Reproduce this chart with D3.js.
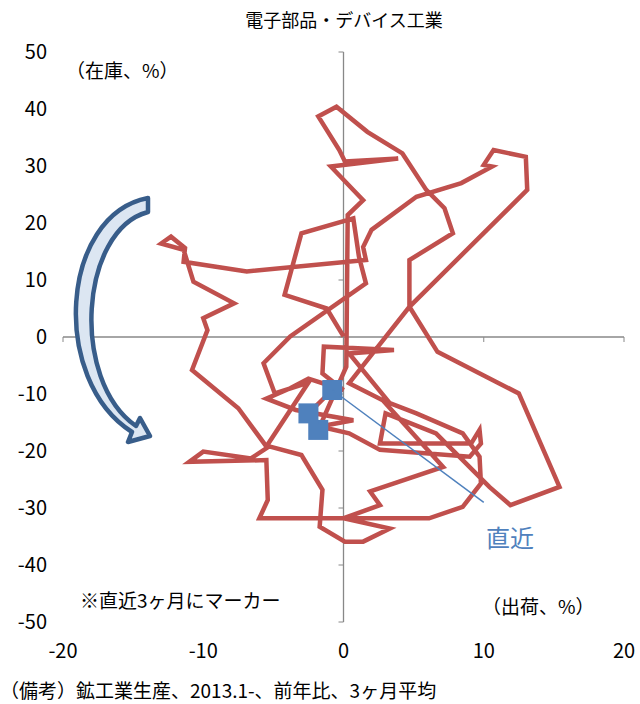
<!DOCTYPE html><html><head><meta charset="utf-8"><script src="https://cdn.jsdelivr.net/npm/d3@7"></script>
<style>body{margin:0;background:#fff}text{font-family:"Noto Sans CJK JP",sans-serif}</style></head><body><svg id="c" width="640" height="704"></svg><script>
const shipX=[0,-1.2,-4.2,-3,0.7,1.1,1.6,-3.8,-5.7,-4.9,-2.5,-5.5,-7.5,-10.8,-9.7,-10,-7.8,-10.7,-11.4,-13,-12.3,-11.3,-11.4,-6.9,1.6,1.4,2,5.2,8.4,10.6,10,10.7,13,13.1,4.7,0.4,2.8,7.1,1.9,2.6,0,3.3,1.4,0.1,-1.7,-1.5,-3,-5.3,-6.6,-10,-11,-5.5,-5.4,-6,6.1,8.5,9.8,9.7,8.5,5.2,3.3,0.4,3.6,-1.4,-1.5,0,-2.5,-3.8,-5.5,-3.4,0.7,-1.7,0.4,2.6,9,9.8,9.7,9.1,4.7,2.6,3,6.6,10.4,11.9,15.4,12.5,6.7,4.7,4.7,7.8,7.2,5.9,4.2,1.7,-0.5,-1.8,-0.3,0.1,3.9,-0.9,0.7,1.4,0.3,0.2,-1.8,-2.5,-0.8];
const invY=[0.1,5,7.4,18.2,20.8,14.1,9.4,0.1,-4.6,-9.9,-8,-19.2,-12.5,-5.8,1.2,3.3,5.9,9.7,15.3,16.4,17.6,15.6,13.2,11.5,13.5,15.8,18.8,24.6,27,29.9,30.2,32.8,31.6,25.8,5.3,-8.1,-11.1,-22.8,-27.1,-29.5,-31.8,-33.6,-35.9,-35.9,-33.3,-26.8,-20.7,-19.2,-21.3,-20.1,-21.9,-21.6,-28.6,-31.8,-31.8,-29.8,-25.7,-21,-16.9,-13.4,-11.6,-2.9,-2.3,-1.7,-6.4,-9.3,-7.3,-9,-10.8,-12.8,-14.6,-15.7,-16.9,-19.8,-21,-18.7,-16.3,-18.7,-18.7,-18.7,-13.4,-16.9,-26.3,-29.5,-26.3,-9.9,-2.6,5.3,13.5,18.2,22.6,25.8,32.2,36,40.4,38.7,32.8,30.8,31.3,29.9,25.8,24,21.4,-5.2,-16.3,-13.4,-9.3];
const xTicks=[-20,-10,0,10,20], yTicks=[50,40,30,20,10,0,-10,-20,-30,-40,-50];
const svg=d3.select("#c");
const x=d3.scaleLinear().domain([-20,20]).range([63,624]);
const y=d3.scaleLinear().domain([-50,50]).range([622,52]);
svg.append("text").attr("x",344).attr("y",27).attr("text-anchor","middle").attr("font-size",18).text("電子部品・デバイス工業");
const g=svg.append("g");
g.append("line").attr("x1",x(-20)).attr("x2",x(20)).attr("y1",y(0)).attr("y2",y(0)).attr("stroke","#888").attr("stroke-width",1.3);
g.append("line").attr("x1",x(0)).attr("x2",x(0)).attr("y1",y(50)).attr("y2",y(-50)).attr("stroke","#888").attr("stroke-width",1.3);
yTicks.forEach(t=>{g.append("line").attr("x1",x(0)-5).attr("x2",x(0)).attr("y1",y(t)).attr("y2",y(t)).attr("stroke","#888");
 svg.append("text").attr("x",47).attr("y",y(t)+7).attr("text-anchor","end").attr("font-size",20).attr("font-family","Liberation Sans Narrow, Liberation Sans").text(t);});
xTicks.forEach(t=>{g.append("line").attr("x1",x(t)).attr("x2",x(t)).attr("y1",y(0)).attr("y2",y(0)+5).attr("stroke","#888");
 svg.append("text").attr("x",x(t)).attr("y",658).attr("text-anchor","middle").attr("font-size",20).attr("font-family","Liberation Sans Narrow, Liberation Sans").text(t);});
const pts=shipX.map((v,i)=>[v,invY[i]]);
svg.append("path").attr("d",d3.line().x(d=>x(d[0])).y(d=>y(d[1]))(pts)).attr("fill","none").attr("stroke","#c0504d").attr("stroke-width",4.5).attr("stroke-linejoin","miter");
svg.selectAll("rect.m").data(pts.slice(-3)).join("rect").attr("x",d=>x(d[0])-10).attr("y",d=>y(d[1])-10).attr("width",20).attr("height",20).attr("fill","#4f81bd");
const last=pts[pts.length-1];
svg.append("line").attr("x1",x(last[0])).attr("y1",y(last[1])).attr("x2",x(10)).attr("y2",y(-29)).attr("stroke","#4f81bd").attr("stroke-width",1.5);
svg.append("text").attr("x",486).attr("y",547).attr("font-size",24).attr("fill","#4f81bd").text("直近");
svg.append("text").attr("x",66).attr("y",78).attr("font-size",19).text("（在庫、%）");
svg.append("text").attr("x",482).attr("y",614).attr("font-size",19).text("（出荷、%）");
svg.append("text").attr("x",80).attr("y",608).attr("font-size",19).text("※直近3ヶ月にマーカー");
svg.append("text").attr("x",0).attr("y",698).attr("font-size",19).text("（備考）鉱工業生産、2013.1-、前年比、3ヶ月平均");
svg.append("path").attr("d","M148,198 C60,215 50,380 132,432 L128,442 L150,436 L140,418 L136,426 C70,380 80,230 148,212 Z").attr("fill","#dce6f2").attr("stroke","#385d8a").attr("stroke-width",4.5).attr("stroke-linejoin","round");
</script></body></html>
